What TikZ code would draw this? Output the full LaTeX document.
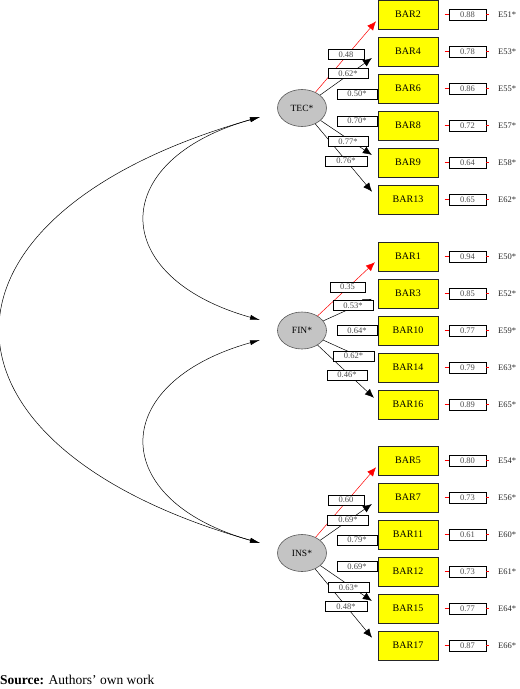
\documentclass[tikz,border=0pt]{standalone}
\usepackage{fontspec}
\setmainfont{Liberation Serif}
\usetikzlibrary{arrows.meta,shapes.geometric}
\definecolor{baryellow}{RGB}{255,255,0}
\definecolor{latgray}{RGB}{196,196,196}
\begin{document}
\begin{tikzpicture}[x=1pt,y=-1pt,
  bar/.style={draw=black!85, fill=baryellow, minimum width=60pt, minimum height=29pt, inner sep=0pt, line width=0.6pt, font=\fontsize{10}{10}\selectfont},
  lat/.style={ellipse, draw=black!65, fill=latgray, minimum width=49pt, minimum height=37pt, inner sep=0pt, line width=0.6pt, font=\fontsize{9.5}{9.5}\selectfont},
  lbl/.style={draw=black, fill=white, minimum height=10pt, inner sep=0pt, line width=0.7pt, text=black!70, font=\fontsize{8.5}{8.5}\selectfont},
  err/.style={draw=black, fill=white, minimum width=37pt, minimum height=11pt, inner sep=0pt, line width=0.7pt, text=black!70, font=\fontsize{8.5}{8.5}\selectfont},
  elab/.style={anchor=west, inner sep=0pt, text=black!85, font=\fontsize{8.5}{8.5}\selectfont},
  load/.style={-{Latex[length=9pt,width=7.5pt]}, line width=0.5pt, shorten >=1pt},
  firstload/.style={load, red},
  cov/.style={{Latex[length=10pt,width=5pt]}-{Latex[length=10pt,width=5pt]}, line width=0.5pt},
  tick/.style={red, line width=0.7pt}]
\useasboundingbox (0,0) rectangle (520,689);

% indicator boxes, error boxes and labels
\foreach \n/\yy/\ev/\el in {2/14.5/0.88/E51, 4/51.5/0.78/E53, 6/88.5/0.86/E55, 8/125.5/0.72/E57, 9/162.5/0.64/E58, 13/199.5/0.65/E62,
  1/256.5/0.94/E50, 3/293.5/0.85/E52, 10/330.5/0.77/E59, 14/367.5/0.79/E63, 16/404.5/0.89/E65,
  5/460.5/0.80/E54, 7/497.5/0.73/E56, 11/534.5/0.61/E60, 12/571.5/0.73/E61, 15/608.5/0.77/E64, 17/645.5/0.87/E66}{
  \node[bar] (b\n) at (408,\yy) {BAR\n};
  \node[err] (e\n) at (467.5,\yy) {\ev};
  \node[elab] (l\n) at (498,\yy) {\el*};
  \draw[tick] ([xshift=-4pt]e\n.west) -- (e\n.west);
  \draw[tick] (e\n.east) -- ([xshift=3pt]e\n.east);
}

% latent factors
\node[lat] (TEC) at (302,108) {TEC*};
\node[lat] (FIN) at (302,330.5) {FIN*};
\node[lat] (INS) at (302,553) {INS*};

% covariances
\coordinate (tecL) at (260,117);
\coordinate (finLa) at (260,320);
\coordinate (finLb) at (260,340);
\coordinate (insL) at (260,543);
\draw[cov] (tecL) .. controls (-85,215) and (-85,445) .. (insL);
\draw[cov] (tecL) .. controls (107,160) and (107,277) .. (finLa);
\draw[cov] (finLb) .. controls (107,383) and (107,500) .. (insL);

% loadings TEC
\draw[firstload] (TEC) -- ([yshift=-6pt,xshift=-1pt]b2.west);
\draw[load] (TEC) -- ([yshift=-6pt,xshift=-5pt]b4.west);
\draw[load] (TEC) -- ([yshift=7pt,xshift=-5pt]b9.west);
\draw[load] (TEC) -- ([yshift=7pt,xshift=-5pt]b13.west);
% loadings FIN
\draw[firstload] (FIN) -- ([yshift=-5pt,xshift=-2pt]b1.west);
\draw[load] (FIN) -- ([yshift=-5pt,xshift=-5pt]b3.west);
\draw[load] (FIN) -- ([yshift=5pt,xshift=-5pt]b14.west);
\draw[load] (FIN) -- ([yshift=6pt,xshift=-3pt]b16.west);
% loadings INS
\draw[firstload] (INS) -- ([yshift=-6pt,xshift=-1pt]b5.west);
\draw[load] (INS) -- ([yshift=-6pt,xshift=-5pt]b7.west);
\draw[load] (INS) -- ([yshift=7pt,xshift=-5pt]b15.west);
\draw[load] (INS) -- ([yshift=7pt,xshift=-5pt]b17.west);

% loading labels TEC
\node[lbl, minimum width=36pt] (t2) at (346,54.5) {0.48};
\node[lbl, minimum width=40pt] (t4) at (348,73.5) {0.62*};
\node[lbl, minimum width=40pt] (t6) at (357,94) {0.50*};
\node[lbl, minimum width=40pt] (t8) at (357,121) {0.70*};
\node[lbl, minimum width=40pt] (t9) at (348,141.5) {0.77*};
\node[lbl, minimum width=42pt] (t13) at (346,161) {0.76*};
% loading labels FIN
\node[lbl, minimum width=35pt] (f1) at (347.5,287) {0.35};
\node[lbl, minimum width=40pt] (f3) at (353,305.5) {0.53*};
\node[lbl, minimum width=40pt] (f10) at (357,330.5) {0.64*};
\node[lbl, minimum width=41pt] (f14) at (353.5,356) {0.62*};
\node[lbl, minimum width=40pt] (f16) at (347,375) {0.46*};
% loading labels INS
\node[lbl, minimum width=36pt] (i5) at (346,500) {0.60};
\node[lbl, minimum width=41pt] (i7) at (348,520) {0.69*};
\node[lbl, minimum width=40pt] (i11) at (357,540) {0.79*};
\node[lbl, minimum width=40pt] (i12) at (357,566.5) {0.69*};
\node[lbl, minimum width=41pt] (i15) at (348.5,587.5) {0.63*};
\node[lbl, minimum width=42pt] (i17) at (346,606.5) {0.48*};

% source
\node[anchor=base west, inner sep=0pt, font=\fontsize{13.5}{13.5}\selectfont] (src) at (0,684) {\textbf{Source:} Authors’ own work};
\end{tikzpicture}
\end{document}
